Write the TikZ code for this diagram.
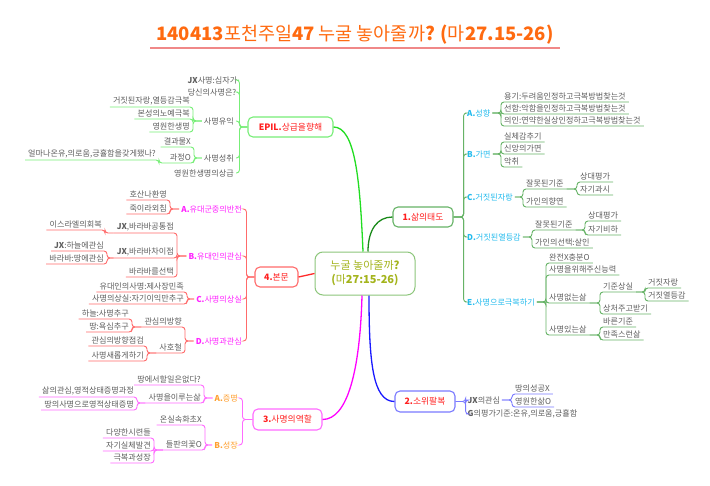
\documentclass[tikz,border=0pt]{standalone}
\usepackage{fontspec}
\setmainfont{Noto Sans CJK KR}
\definecolor{txtgray}{HTML}{5E5E5E}
\definecolor{titleor}{HTML}{FF6A10}
\definecolor{titleline}{HTML}{F08888}
\definecolor{ctrtext}{HTML}{A4B41C}
\definecolor{ctrborder}{HTML}{8CC67A}
\definecolor{mainred}{HTML}{FF2020}
\definecolor{colE}{HTML}{77EE77}
\definecolor{colEmain}{HTML}{22DD22}
\definecolor{colA}{HTML}{66B366}
\definecolor{colAmain}{HTML}{1A8A1A}
\definecolor{colR}{HTML}{FF6B6B}
\definecolor{colRmain}{HTML}{FF2A2A}
\definecolor{colM}{HTML}{FF6BFF}
\definecolor{colMmain}{HTML}{FF00FF}
\definecolor{colB}{HTML}{7A7AFF}
\definecolor{colBmain}{HTML}{1A1AFF}
\definecolor{labcyan}{HTML}{22BBEE}
\definecolor{labmag}{HTML}{FF22FF}
\definecolor{laborange}{HTML}{FFA030}
\newcommand{\bpx}[1]{{\bfseries #1}}
\tikzset{
  lf/.style={font=\fontsize{8.1}{9}\selectfont, text=txtgray, inner xsep=3pt, inner ysep=1.5pt},
  lfR/.style={lf, anchor=south west},
  lfL/.style={lf, anchor=south east},
  catR/.style={lf, anchor=west, inner xsep=2pt},
  catL/.style={lf, anchor=east, inner xsep=2pt},
  mainnode/.style={draw, rounded corners=5pt, line width=1.1pt, fill=white, font=\fontsize{8.8}{9}\selectfont, text=mainred, inner sep=0pt, minimum height=20pt},
  cn/.style={line width=0.9pt, rounded corners=3pt},
  gE/.style={cn, draw=colE},
  gA/.style={cn, draw=colA},
  gR/.style={cn, draw=colR},
  gM/.style={cn, draw=colM},
  gB/.style={cn, draw=colB},
  mainline/.style={line width=1.3pt},
}
\begin{document}
\begin{tikzpicture}[x=1pt,y=-1pt]
\fill[white] (0,0) rectangle (710,485);
\useasboundingbox (0,0) rectangle (710,485);

% title
\node[font=\fontsize{18.5}{20}\selectfont, text=titleor] (title) at (355,35) {\bpx{140413}포천주일\bpx{47} 누굴 놓아줄까\bpx{? (}마\bpx{27.15-26)}};
\draw[titleline, line width=1.2pt] (150,48) -- (560,48);

% center and main nodes
\node[draw=ctrborder, fill=white, rounded corners=8pt, line width=1pt, minimum width=100pt, minimum height=43pt, align=center, text=ctrtext, font=\fontsize{11}{14}\selectfont] (ctr) at (365,273.5) {누굴 놓아줄까\bpx{?}\\\bpx{(}마\bpx{27:15-26)}};
\node[mainnode, draw=colA, minimum width=60pt] (n1) at (423,217) {\bpx{1.}삶의태도};
\node[mainnode, draw=colE, minimum width=85pt] (nE) at (290.5,127) {\bpx{EPIL.}상급을향해};
\node[mainnode, draw=colR, minimum width=43pt] (n4) at (276.5,277) {\bpx{4.}본문};
\node[mainnode, draw=colM, minimum width=69pt, minimum height=21pt] (n3) at (287.5,419.5) {\bpx{3.}사명의역할};
\node[mainnode, draw=colB, minimum width=60pt, minimum height=21pt] (n2) at (425,401.5) {\bpx{2.}소위팔복};

% main connectors
\draw[mainline, colEmain] ([xshift=-2pt]ctr.north) .. controls +(-3,-70) and +(22,0) .. (nE.east);
\draw[mainline, colAmain] ([xshift=3pt]ctr.north) .. controls +(0,-22) and +(-15,0) .. (n1.west);
\draw[mainline, colRmain] (ctr.west) -- (n4.east);
\draw[mainline, colMmain] ([xshift=-3pt]ctr.south) .. controls +(-2,75) and +(25,0) .. (n3.east);
\draw[mainline, colBmain] ([xshift=4pt]ctr.south) .. controls +(0,65) and +(-22,0) .. (n2.west);

% ===== EPIL branch =====
\node[catL, inner xsep=1.5pt] (e1) at (239,80) {\bpx{JX}사명:십자가};
\node[catL, inner xsep=1.5pt] (e2) at (238,92) {당신의사명은?};
\node[catL] (e3) at (236,121) {사명유익};
\node[catL] (e4) at (236,158) {사명성취};
\node[catL] (e5) at (236,173) {영원한생명의상급};
\foreach \c in {e1,e2,e3,e4,e5} \draw[gE] (nE.west) -- ++(-8,0) |- (\c.east);
\node[lfL] (e31) at (193,107) {거짓된자랑,열등감극복};
\node[lfL] (e32) at (193,119) {본성의노예극복};
\node[lfL] (e33) at (193,132) {영원한생명};
\foreach \c in {e31,e32,e33} \draw[gE] (e3.west) -| (\c.south east) -- (\c.south west);
\node[lfL] (e41) at (194,147) {결과물X};
\node[lfL] (e42) at (194,163) {과정O};
\foreach \c in {e41,e42} \draw[gE] (e4.west) -| (\c.south east) -- (\c.south west);
\node[lfL] (e421) at (159,160) {얼마나온유,의로움,긍휼함을갖게됐나?};
\draw[gE] (e42.south west) -| (e421.south east) -- (e421.south west);

% ===== 4. 본문 branch =====
\node[catL, text=labmag] (a4) at (244,209) {\bpx{A.}유대군중의반전};
\node[catL, text=labmag] (b4) at (244,256) {\bpx{B.}유대인의관심};
\node[catL, text=labmag] (c4) at (244,299) {\bpx{C.}사명의상실};
\node[catL, text=labmag] (d4) at (244,341) {\bpx{D.}사명과관심};
\foreach \c in {a4,b4,c4,d4} \draw[gR] (n4.west) -- ++(-8,0) |- (\c.east);
\node[lfL] (a41) at (170,200) {호산나환영};
\node[lfL] (a42) at (170,214) {죽이라외침};
\foreach \c in {a41,a42} \draw[gR] (a4.west) -| (\c.south east) -- (\c.south west);
\node[lfL] (b41) at (177,233) {\bpx{JX},바라바공통점};
\node[lfL] (b42) at (177,258) {\bpx{JX},바라바차이점};
\node[lfL] (b43) at (177,277) {바라바를선택};
\foreach \c in {b41,b42,b43} \draw[gR] (b4.west) -| (\c.south east) -- (\c.south west);
\node[lfL] (b411) at (105,230) {이스라엘의회복};
\draw[gR] (b41.south west) -| (b411.south east) -- (b411.south west);
\node[lfL] (b421) at (107,251) {\bpx{JX}:하늘에관심};
\node[lfL] (b422) at (107,264) {바라바:땅에관심};
\foreach \c in {b421,b422} \draw[gR] (b42.south west) -| (\c.south east) -- (\c.south west);
\node[lfL] (c41) at (187,292) {유대인의사명:제사장민족};
\node[lfL] (c42) at (187,304) {사명의상실:자기이익만추구};
\foreach \c in {c41,c42} \draw[gR] (c4.west) -| (\c.south east) -- (\c.south west);
\node[lfL] (d41) at (185,327) {관심의방향};
\node[lfL] (d42) at (185,353) {사호철};
\foreach \c in {d41,d42} \draw[gR] (d4.west) -| (\c.south east) -- (\c.south west);
\node[lfL] (d411) at (132,319) {하늘:사명추구};
\node[lfL] (d412) at (132,332) {땅:욕심추구};
\foreach \c in {d411,d412} \draw[gR] (d41.south west) -| (\c.south east) -- (\c.south west);
\node[lfL] (d421) at (147,346) {관심의방향점검};
\node[lfL] (d422) at (147,361) {사명새롭게하기};
\foreach \c in {d421,d422} \draw[gR] (d42.south west) -| (\c.south east) -- (\c.south west);

% ===== 3. 사명의역할 branch =====
\node[catL, text=laborange] (a3) at (240,398) {\bpx{A.}증명};
\node[catL, text=laborange] (b3) at (240,445) {\bpx{B.}성장};
\foreach \c in {a3,b3} \draw[gM] (n3.west) -- ++(-10,0) |- (\c.east);
\node[lfL] (a31) at (204,385) {땅에서할일은없다?};
\node[lfL] (a32) at (204,403) {사명을이루는삶};
\foreach \c in {a31,a32} \draw[gM] (a3.west) -| (\c.south east) -- (\c.south west);
\node[lfL] (a321) at (137,397) {삶의관심,영적상태증명과정};
\node[lfL] (a322) at (137,410) {땅의사명으로영적상태증명};
\foreach \c in {a321,a322} \draw[gM] (a32.south west) -| (\c.south east) -- (\c.south west);
\node[lfL] (b31) at (205,425) {온실속화초X};
\node[lfL] (b32) at (205,450) {들판의꽃O};
\foreach \c in {b31,b32} \draw[gM] (b3.west) -| (\c.south east) -- (\c.south west);
\node[lfL] (b321) at (154,438) {다양한시련들};
\node[lfL] (b322) at (154,451) {자기실체발견};
\node[lfL] (b323) at (154,463) {극복과성장};
\foreach \c in {b321,b322,b323} \draw[gM] (b32.south west) -| (\c.south east) -- (\c.south west);

% ===== 2. branch =====
\node[catR, inner xsep=1.5pt] (j2) at (466,400) {\bpx{JX}의관심};
\node[catR, inner xsep=1.5pt] (g2) at (466,414) {\bpx{G}의평가기준:온유,의로움,긍휼함};
\foreach \c in {j2,g2} \draw[gB] (n2.east) -- ++(10,0) |- (\c.west);
\node[lfR] (j21) at (512,394) {땅의성공X};
\node[lfR] (j22) at (512,407) {영원한삶O};
\foreach \c in {j21,j22} \draw[gB] (j2.east) -| (\c.south west) -- (\c.south east);

% ===== 1. 삶의태도 branch =====
\node[catR, text=labcyan] (A1) at (465,113) {\bpx{A.}성향};
\node[catR, text=labcyan] (B1) at (465,154) {\bpx{B.}가면};
\node[catR, text=labcyan] (C1) at (465,197) {\bpx{C.}거짓된자랑};
\node[catR, text=labcyan] (D1) at (465,237) {\bpx{D.}거짓된열등감};
\node[catR, text=labcyan] (E1) at (465,302) {\bpx{E.}사명으로극복하기};
\foreach \c in {A1,B1,C1,D1,E1} \draw[gA] (n1.east) -- ++(10,0) |- (\c.west);
\node[lfR] (A11) at (501,102) {용기:두려움인정하고극복방법찾는것};
\node[lfR] (A12) at (501,114) {선함:악함을인정하고극복방법찾는것};
\node[lfR] (A13) at (501,126) {의인:연약한실상인정하고극복방법찾는것};
\foreach \c in {A11,A12,A13} \draw[gA] (A1.east) -| (\c.south west) -- (\c.south east);
\node[lfR] (B11) at (501,142) {실체감추기};
\node[lfR] (B12) at (501,154) {신앙의가면};
\node[lfR] (B13) at (501,167) {악취};
\foreach \c in {B11,B12,B13} \draw[gA] (B1.east) -| (\c.south west) -- (\c.south east);
\node[lfR] (C11) at (523,189) {잘못된기준};
\node[lfR] (C12) at (523,207) {가인의향연};
\foreach \c in {C11,C12} \draw[gA] (C1.east) -| (\c.south west) -- (\c.south east);
\node[lfR] (C111) at (577,182) {상대평가};
\node[lfR] (C112) at (577,195) {자기과시};
\foreach \c in {C111,C112} \draw[gA] (C11.south east) -| (\c.south west) -- (\c.south east);
\node[lfR] (D11) at (532,230) {잘못된기준};
\node[lfR] (D12) at (532,248) {가인의선택:살인};
\foreach \c in {D11,D12} \draw[gA] (D1.east) -| (\c.south west) -- (\c.south east);
\node[lfR] (D111) at (585,221) {상대평가};
\node[lfR] (D112) at (585,235) {자기비하};
\foreach \c in {D111,D112} \draw[gA] (D11.south east) -| (\c.south west) -- (\c.south east);
\node[lfR] (E11) at (546,263) {완전X충분O};
\node[lfR] (E12) at (546,275) {사명을위해주신능력};
\node[lfR] (E13) at (546,303) {사명없는삶};
\node[lfR] (E14) at (546,335) {사명있는삶};
\foreach \c in {E11,E12,E13,E14} \draw[gA] (E1.east) -| (\c.south west) -- (\c.south east);
\node[lfR] (E131) at (600,292) {기준상실};
\node[lfR] (E132) at (600,314) {상처주고받기};
\foreach \c in {E131,E132} \draw[gA] (E13.south east) -| (\c.south west) -- (\c.south east);
\node[lfR] (E1311) at (645,288) {거짓자랑};
\node[lfR] (E1312) at (645,301) {거짓열등감};
\foreach \c in {E1311,E1312} \draw[gA] (E131.south east) -| (\c.south west) -- (\c.south east);
\node[lfR] (E141) at (600,327) {바른기준};
\node[lfR] (E142) at (600,340) {만족스런삶};
\foreach \c in {E141,E142} \draw[gA] (E14.south east) -| (\c.south west) -- (\c.south east);
\end{tikzpicture}
\end{document}
